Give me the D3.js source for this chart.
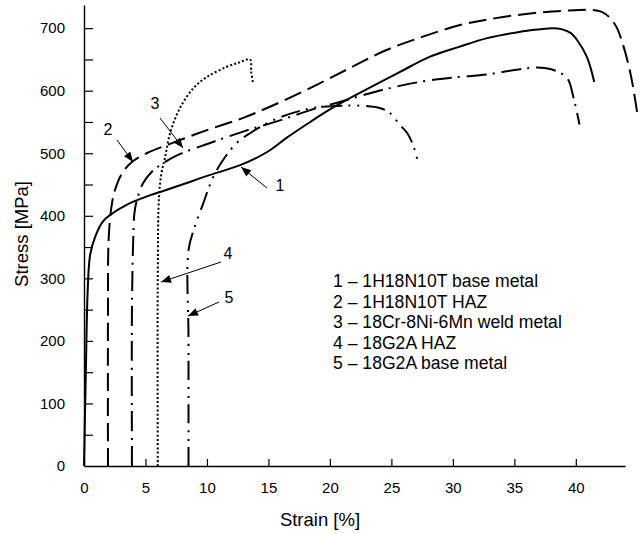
<!DOCTYPE html>
<html>
<head>
<meta charset="utf-8">
<script src="https://cdn.jsdelivr.net/npm/d3@7"></script>
<style>
  html, body { margin: 0; padding: 0; background: #fff; }
  svg text { font-family: "Liberation Sans", Arial, Helvetica, sans-serif; fill: #000; }
</style>
</head>
<body>
<svg id="chart" width="641" height="534"></svg>
<script>
// Stress–strain curves (strain in %, stress in MPa)
const c1Strain = [0, 0.15, 0.3, 0.5, 0.9, 1.5, 2.1, 3.5, 5.4, 6.2, 8, 10.2, 12.7, 14.9, 16.5, 18.4, 20, 22, 25.7, 28.1, 30.5, 32.8, 35.4, 37, 38.1, 38.9, 39.6, 40.1, 40.9, 41.5];
const c1Stress = [0, 150, 280, 338, 366, 390, 401, 418, 433, 438, 450, 465, 481, 502, 525, 550, 570, 592, 630, 654, 670, 684, 694, 698, 700, 698, 692, 681, 654, 614];

const c2Strain = [1.95, 1.95, 2.0, 2.2, 2.5, 3.1, 3.9, 5.1, 7, 10, 13, 16, 19.2, 22, 24.6, 27.5, 30.8, 33.5, 36.5, 38.5, 40.3, 41.4, 42.1, 42.7, 43.3, 43.8, 44.3, 44.6, 45.0];
const c2Stress = [0, 250, 360, 410, 440, 468, 486, 500, 515, 537, 557, 582, 612, 640, 665, 686, 706, 716, 724, 727, 729, 729, 726, 718, 702, 676, 640, 612, 564];

const c3Strain = [3.9, 3.9, 4.0, 4.1, 4.3, 4.8, 5.5, 6.2, 7.6, 10.2, 13, 16, 18.4, 20.8, 24, 27.3, 30, 32.8, 35, 36.8, 38.2, 39.3, 39.8, 40.3];
const c3Stress = [0, 250, 360, 404, 425, 452, 470, 481, 497, 516, 535, 553, 569, 582, 600, 614, 621, 626, 633, 637, 633, 620, 590, 546];

const c4Strain = [6.0, 6.0, 6.1, 6.3, 6.6, 7.0, 7.8, 8.9, 10.0, 11.6, 12.6, 13.5, 13.6, 13.75];
const c4Stress = [0, 300, 430, 468, 494, 532, 572, 604, 622, 638, 645, 650, 630, 612];

const c5Strain = [8.5, 8.5, 8.5, 9.0, 9.7, 10.4, 11.2, 12.4, 13.5, 15.4, 17.8, 19.2, 21, 22.5, 24.1, 24.9, 25.7, 26.3, 26.9, 27.2];
const c5Stress = [0, 200, 345, 382, 420, 457, 486, 516, 532, 553, 569, 574, 576, 576, 572, 564, 545, 532, 505, 482];

const legendLabels = [
  "1 \u2013 1H18N10T base metal",
  "2 \u2013 1H18N10T HAZ",
  "3 \u2013 18Cr-8Ni-6Mn weld metal",
  "4 \u2013 18G2A HAZ",
  "5 \u2013 18G2A base metal"
];
const xTickValues = [0, 5, 10, 15, 20, 25, 30, 35, 40];
const yMajorTicks = [0, 100, 200, 300, 400, 500, 600, 700];
const yMinorTicks = [50, 150, 250, 350, 450, 550, 650];

const svg = d3.select("#chart");
const x = d3.scaleLinear().domain([0, 44]).range([84, 625]);
const y = d3.scaleLinear().domain([0, 737]).range([466, 5]);

// Axes: ticks point into the plot area
const xAxis = d3.axisBottom(x).tickValues(xTickValues).tickSize(-7).tickPadding(16).tickSizeOuter(0);
const gx = svg.append("g").attr("transform", "translate(0,466)").call(xAxis);
gx.select(".domain").attr("stroke-width", 1.6);
gx.selectAll(".tick line").attr("stroke-width", 1.2);
gx.selectAll(".tick text").attr("font-size", 15);

const yAxis = d3.axisLeft(y).tickValues(yMajorTicks).tickSize(-9).tickPadding(19).tickSizeOuter(0);
const gy = svg.append("g").attr("transform", "translate(84,0)").call(yAxis);
gy.select(".domain").attr("stroke-width", 1.4);
gy.selectAll(".tick line").attr("stroke-width", 1.2);
gy.selectAll(".tick text").attr("font-size", 15);
gy.selectAll(".tick").filter(d => d === 0).select("line").remove();

svg.append("g").attr("transform", "translate(84,0)")
  .call(d3.axisLeft(y).tickValues(yMinorTicks).tickSize(-9).tickFormat(""))
  .call(g => g.select(".domain").remove())
  .selectAll(".tick line").attr("stroke-width", 1.2);

svg.append("text").attr("x", 320).attr("y", 526).attr("text-anchor", "middle")
  .attr("font-size", 18.5).text("Strain [%]");
svg.append("text").attr("transform", "translate(28,234) rotate(-90)")
  .attr("text-anchor", "middle").attr("font-size", 18.5).text("Stress [MPa]");

// Curves
const line = d3.line().x(d => x(d[0])).y(d => y(d[1])).curve(d3.curveCatmullRom.alpha(0.5));
const zip = (a, b) => a.map((v, i) => [v, b[i]]);
const series = [
  { pts: zip(c1Strain, c1Stress), dash: null },
  { pts: zip(c2Strain, c2Stress), dash: "18,7" },
  { pts: zip(c3Strain, c3Stress), dash: "20,6,2,7" },
  { pts: zip(c4Strain, c4Stress), dash: "2,2.2" },
  { pts: zip(c5Strain, c5Stress), dash: "19,6,2,7,2,7" }
];
svg.append("g").selectAll("path").data(series).join("path")
  .attr("d", d => line(d.pts))
  .attr("fill", "none").attr("stroke", "#000").attr("stroke-width", 2)
  .attr("stroke-dasharray", d => d.dash);

// Callout arrows with curve numbers
svg.append("defs").append("marker")
  .attr("id", "head").attr("viewBox", "0 0 10 8").attr("refX", 10).attr("refY", 4)
  .attr("markerWidth", 11).attr("markerHeight", 8).attr("markerUnits", "userSpaceOnUse")
  .attr("orient", "auto")
  .append("path").attr("d", "M0,0 L10,4 L0,8 Z").attr("fill", "#000");

const callouts = [
  { n: "1", tx: 280, ty: 191, from: [267, 188], to: [241, 167] },
  { n: "2", tx: 108, ty: 135, from: [117, 140], to: [133, 162] },
  { n: "3", tx: 155, ty: 109, from: [160, 118], to: [183, 148] },
  { n: "4", tx: 228, ty: 259, from: [221, 262], to: [161, 282] },
  { n: "5", tx: 229, ty: 303, from: [219, 302], to: [188, 316] }
];
const gc = svg.append("g");
gc.selectAll("line").data(callouts).join("line")
  .attr("x1", d => d.from[0]).attr("y1", d => d.from[1])
  .attr("x2", d => d.to[0]).attr("y2", d => d.to[1])
  .attr("stroke", "#000").attr("stroke-width", 1)
  .attr("marker-end", "url(#head)");
gc.selectAll("text").data(callouts).join("text")
  .attr("x", d => d.tx).attr("y", d => d.ty)
  .attr("text-anchor", "middle").attr("font-size", 16).text(d => d.n);

// Legend
svg.append("g").selectAll("text").data(legendLabels).join("text")
  .attr("x", 333).attr("y", (d, i) => 287 + i * 20.5)
  .attr("font-size", 17.6).text(d => d);
</script>
</body>
</html>
